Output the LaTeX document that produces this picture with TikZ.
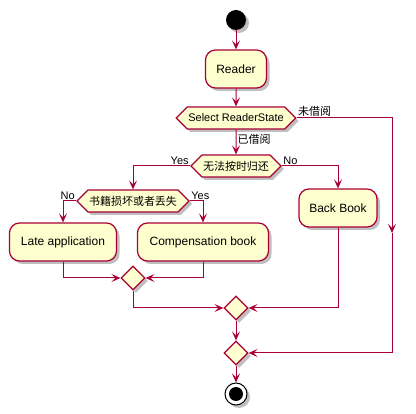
\documentclass[tikz,border=0pt]{standalone}
\usepackage{fontspec}
\setmainfont{Liberation Sans}
\newfontfamily\cjk{Noto Sans CJK SC}
\usetikzlibrary{arrows.meta,shapes.geometric,shapes.symbols,positioning,shadows}
\definecolor{umlred}{HTML}{A80036}
\definecolor{umlfill}{HTML}{FEFECE}

\tikzset{
  shade/.style={drop shadow={shadow xshift=3pt, shadow yshift=-3pt, opacity=.25, fill=black}},
  act/.style={rectangle, rounded corners=10pt, draw=umlred, fill=umlfill, line width=1.2pt,
    minimum height=38pt, font=\fontsize{12}{14}\selectfont, shade},
  cond/.style={signal, signal to=west and east, draw=umlred, fill=umlfill, line width=1.2pt,
    minimum height=22pt, inner sep=1pt, font=\fontsize{11}{13}\selectfont, shade},
  merge/.style={diamond, draw=umlred, fill=umlfill, line width=1.2pt, minimum size=24pt, inner sep=0pt, shade},
  flow/.style={draw=umlred, line width=1pt, -{Stealth[length=9pt,width=8pt,inset=4pt]}},
  lbl/.style={font=\fontsize{11}{13}\selectfont, inner sep=1pt, text=black}
}

\begin{document}
\begin{tikzpicture}[x=1pt, y=-1pt]
  \useasboundingbox (0,0) rectangle (416,414);

  \node[circle, fill=black, minimum size=20pt, inner sep=0pt, shade] (start) at (236,20) {};
  \node[act, minimum width=61pt] (reader) at (236,69) {Reader};
  \node[cond, minimum width=115pt] (state) at (236,118) {Select ReaderState};
  \node[cond, minimum width=90pt] (ontime) at (236,166) {\cjk 无法按时归还};
  \node[cond, minimum width=111pt] (damage) at (133,201) {\cjk 书籍损坏或者丢失};
  \node[act, minimum width=107pt] (late) at (63,242) {Late application};
  \node[act, minimum width=131pt] (comp) at (203,242) {Compensation book};
  \node[act, minimum width=78pt] (back) at (338,208) {Back Book};
  \node[merge] (m1) at (133,278) {};
  \node[merge] (m2) at (236,308) {};
  \node[merge] (m3) at (236,353) {};
  \node[circle, draw=black, fill=white, line width=1pt, minimum size=22pt, inner sep=0pt, shade] (stop) at (236,394) {};
  \node[circle, fill=black, minimum size=14pt, inner sep=0pt] at (stop) {};
  \coordinate (skip) at (392,233);

  % main flow
  \draw[flow] (start) -- (reader);
  \draw[flow] (reader) -- (state);
  \draw[flow] (state) -- node[lbl, right, pos=.4] {\cjk 已借阅} (ontime);
  \draw[flow] (state.east) node[lbl, above right] {\cjk 未借阅} -| (skip);
  \draw[flow] (skip) |- (m3.east);

  % returned branch
  \draw[flow] (ontime.west) node[lbl, above left] {Yes} -| (damage.north);
  \draw[flow] (ontime.east) node[lbl, above right] {No} -| (back.north);
  \draw[flow] (damage.west) node[lbl, above left] {No} -| (late.north);
  \draw[flow] (damage.east) node[lbl, above right] {Yes} -| (comp.north);

  % merges
  \draw[flow] (late.south) |- (m1.west);
  \draw[flow] (comp.south) |- (m1.east);
  \draw[flow] (m1.south) |- (m2.west);
  \draw[flow] (back.south) |- (m2.east);
  \draw[flow] (m2) -- (m3);
  \draw[flow] (m3) -- (stop);
\end{tikzpicture}
\end{document}
